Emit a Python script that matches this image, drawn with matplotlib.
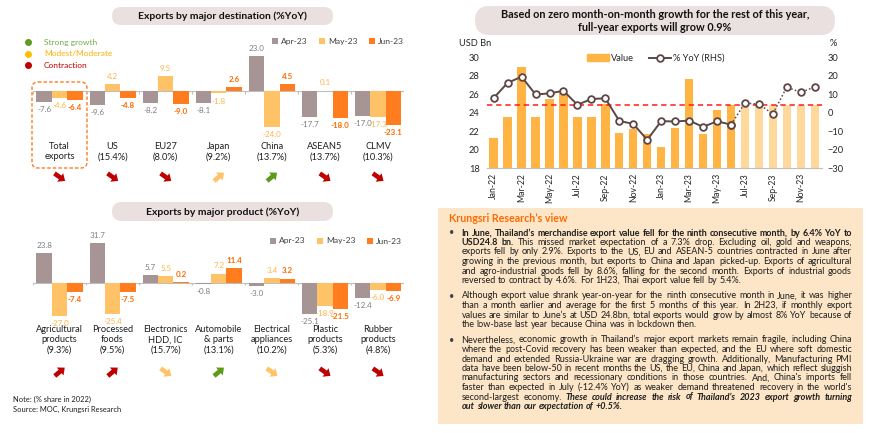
import numpy as np
import matplotlib
matplotlib.use('Agg')
import matplotlib.pyplot as plt
from matplotlib.patches import FancyBboxPatch, Polygon, Rectangle, Patch
from matplotlib.lines import Line2D

plt.rcParams['font.family'] = ['Lato', 'DejaVu Sans']

# ---------------- data ----------------
series_names = ['Apr-23', 'May-23', 'Jun-23']

dest_categories = ['Total\nexports', 'US\n(15.4%)', 'EU27\n(8.0%)', 'Japan\n(9.2%)',
                   'China\n(13.7%)', 'ASEAN5\n(13.7%)', 'CLMV\n(10.3%)']
dest_apr = [-7.6, -9.6, -8.2, -8.1, 23.0, -17.7, -17.0]
dest_may = [-4.6, 4.2, 9.5, -1.8, -24.0, 0.1, -17.3]
dest_jun = [-6.4, -4.8, -9.0, 2.6, 4.5, -18.0, -23.1]
dest_signal = ['contraction', 'contraction', 'contraction', 'moderate', 'strong', 'contraction', 'contraction']
dest_trend = ['down', 'down', 'down', 'up', 'up', 'down', 'down']

prod_categories = ['Agricultural\nproducts\n(9.3%)', 'Processed\nfoods\n(9.5%)', 'Electronics\nHDD, IC\n(15.7%)',
                   'Automobile\n& parts\n(13.1%)', 'Electrical\nappliances\n(10.2%)', 'Plastic\nproducts\n(5.3%)',
                   'Rubber\nproducts\n(4.8%)']
prod_apr = [23.8, 31.7, 5.7, -0.8, -3.0, -25.1, -12.4]
prod_may = [-27.0, -25.4, 5.5, 7.2, 3.4, -18.9, -6.0]
prod_jun = [-7.4, -7.5, 0.2, 11.4, 3.2, -21.5, -6.9]
prod_signal = ['contraction', 'contraction', 'moderate', 'strong', 'moderate', 'contraction', 'contraction']
prod_trend = ['up', 'up', 'down', 'up', 'down', 'down', 'down']

signal_names = ['Strong growth', 'Modest/Moderate', 'Contraction']

months = ['Jan-22', 'Feb-22', 'Mar-22', 'Apr-22', 'May-22', 'Jun-22', 'Jul-22', 'Aug-22', 'Sep-22',
          'Oct-22', 'Nov-22', 'Dec-22', 'Jan-23', 'Feb-23', 'Mar-23', 'Apr-23', 'May-23', 'Jun-23',
          'Jul-23', 'Aug-23', 'Sep-23', 'Oct-23', 'Nov-23', 'Dec-23']
export_value = [21.3, 23.5, 28.9, 23.5, 25.5, 26.1, 23.6, 23.6, 24.9, 21.8, 22.3, 21.7,
                20.3, 22.4, 27.7, 21.7, 24.3, 24.8, 24.8, 24.8, 24.8, 24.8, 24.8, 24.8]
export_yoy = [8.0, 16.2, 19.5, 9.9, 10.5, 11.9, 4.3, 7.5, 7.8, -4.4, -6.0, -14.6,
              -4.5, -4.7, -4.2, -7.6, -4.6, -6.4, 5.3, 4.6, -0.6, 13.9, 11.0, 14.0]
n_actual = 18
baseline_value = 24.8

# ---------------- styles ----------------
C_APR, C_MAY, C_JUN = '#A79494', '#FFC266', '#FF7C1F'
LBL_COLORS = ['#7F7F7F', '#FFB54A', '#FF6A00']
SIG_COLORS = {'strong': '#5E9B1C', 'moderate': '#FFC266', 'contraction': '#C00000'}
SIG_TEXT = ['#70AD47', '#FFB000', '#C00000']
SIG_DOT = ['#5E9B1C', '#FFC000', '#C00000']
TREND_ANGLE = {'up': 40, 'down': -35}
PILL = '#EAE0E0'
C_VAL, C_FC, C_LINE = '#FFB443', '#FFD99C', '#5C4646'
TXT = '#1E1E1E'

W, H = 870, 433
fig = plt.figure(figsize=(W / 100, H / 100), dpi=100)
ov = fig.add_axes([0, 0, 1, 1], zorder=0)
ov.set_xlim(0, W)
ov.set_ylim(H, 0)
ov.axis('off')


def rect_px(x0, y0, x1, y1):
    return [x0 / W, 1 - y1 / H, (x1 - x0) / W, (y1 - y0) / H]


def pill(x0, y0, x1, y1, text, fs):
    ov.add_patch(FancyBboxPatch((x0, y0), x1 - x0, y1 - y0,
                                boxstyle=f'round,pad=0,rounding_size={(y1 - y0) / 2:.1f}',
                                fc=PILL, ec='none'))
    ov.text((x0 + x1) / 2, (y0 + y1) / 2 + 0.5, text, ha='center', va='center', fontsize=fs,
            fontweight='bold', color='#111111', linespacing=1.15)


ARROW = np.array([(-6.2, -2.3), (0.8, -2.3), (0.8, -5.2), (6.8, 0), (0.8, 5.2), (0.8, 2.3), (-6.2, 2.3)])


def arrow(cx, cy, ang, color):
    a = np.deg2rad(ang)
    xs = cx + ARROW[:, 0] * np.cos(a) - ARROW[:, 1] * np.sin(a)
    ys = cy - (ARROW[:, 0] * np.sin(a) + ARROW[:, 1] * np.cos(a))
    ov.add_patch(Polygon(np.column_stack([xs, ys]), closed=True, fc=color, ec='none'))


def bar_panel(box, cats, apr, may, jun, ylim, pad, legend_xy, trends, signals, arrow_y):
    ax = fig.add_axes(rect_px(*box), zorder=2)
    ax.patch.set_alpha(0)
    x = np.arange(len(cats))
    w = 0.29
    for k, (vals, c) in enumerate(zip([apr, may, jun], [C_APR, C_MAY, C_JUN])):
        xs = x + (k - 1) * w
        ax.bar(xs, vals, w, color=c, label=series_names[k], zorder=2)
        for xi, v in zip(xs, vals):
            ax.annotate(f'{v:.1f}', (xi, v), xytext=(0, 3 if v >= 0 else -3), textcoords='offset points',
                        ha='center', va='bottom' if v >= 0 else 'top', fontsize=5.8,
                        color=LBL_COLORS[k], fontweight='bold' if k == 2 else 'normal', zorder=3)
    ax.axhline(0, color='#BFBFBF', lw=0.8, zorder=1)
    ax.vlines(np.arange(len(cats) + 1) - 0.5, -2.2, 0, color='#BFBFBF', lw=0.8, zorder=1)
    ax.set_xlim(-0.5, len(cats) - 0.5)
    ax.set_ylim(*ylim)
    ax.set_xticks(x, cats)
    ax.tick_params(axis='x', length=0, pad=pad, labelsize=6.7, labelcolor=TXT)
    for t in ax.get_xticklabels():
        t.set_linespacing(1.15)
    ax.set_yticks([])
    for s in ax.spines.values():
        s.set_visible(False)
    ax.legend(loc='center', bbox_to_anchor=legend_xy, bbox_transform=ov.transData, ncol=3,
              frameon=False, fontsize=6.1, handlelength=0.7, handleheight=0.7, handletextpad=0.4,
              columnspacing=1.3, labelcolor='#404040')
    fig.canvas.draw()
    for i in x:
        px = ax.transData.transform((i, 0))[0]
        arrow(px, arrow_y, TREND_ANGLE[trends[i]], SIG_COLORS[signals[i]])
    return ax


# ---------------- left top ----------------
pill(112, 7, 333, 25, 'Exports by major destination (%YoY)', 7.5)
ax1 = bar_panel((33, 36, 404.5, 140), dest_categories, dest_apr, dest_may, dest_jun,
                (-32.9, 36.5), 1.5, (338, 41.7), dest_trend, dest_signal, 177)
ov.add_patch(FancyBboxPatch((32, 82), 55, 86, boxstyle='round,pad=0,rounding_size=6',
                            fc='none', ec='#FF7C1F', ls=(0, (2.5, 1.5)), lw=1.0, zorder=5))
for i, (name, tc, dc) in enumerate(zip(signal_names, SIG_TEXT, SIG_DOT)):
    yy = 42 + i * 11.5
    ov.scatter([28.5], [yy], s=16, color=dc, zorder=3)
    ov.text(44, yy, name, fontsize=6, color=tc, va='center', ha='left')

# ---------------- left bottom ----------------
pill(112, 202, 333, 221, 'Exports by major product (%YoY)', 7.5)
ax2b = bar_panel((33, 230, 404.5, 324), prod_categories, prod_apr, prod_may, prod_jun,
                 (-33.3, 42.2), 1.0, (336, 241), prod_trend, prod_signal, 372)
ov.text(13, 399, 'Note: (% share in 2022)', fontsize=5.4, color=TXT, va='center')
ov.text(13, 409.5, 'Source: MOC, Krungsri Research', fontsize=5.4, color=TXT, va='center')

# ---------------- right chart ----------------
pill(475, 6, 835, 35, 'Based on zero month-on-month growth for the rest of this year,\nfull-year exports will grow 0.9%', 7.8)
axr = fig.add_axes(rect_px(486.7, 57.3, 821.7, 168.3), zorder=2)
axr.patch.set_alpha(0)
xm = np.arange(len(months))
bar_colors = [C_VAL if i < n_actual else C_FC for i in range(len(months))]
axr.bar(xm, export_value, 0.6, color=bar_colors, zorder=2)
axr.set_xlim(-0.5, len(months) - 0.5)
axr.set_ylim(18, 30)
axr.set_yticks(np.arange(18, 31, 2))
axr.axhline(baseline_value, color='#FF1A1A', ls=(0, (3.5, 2.5)), lw=1.1, zorder=4)
axr.set_xticks(xm, [m if i % 2 == 0 else '' for i, m in enumerate(months)], rotation=90)
axr.tick_params(axis='x', length=0, pad=3.5, labelsize=6.2, labelcolor='#262626')
axr.tick_params(axis='y', length=0, pad=5, labelsize=6.7, labelcolor='#262626')
for s in ['top', 'left', 'right']:
    axr.spines[s].set_visible(False)
axr.spines['bottom'].set_color('#BFBFBF')
axr.spines['bottom'].set_linewidth(0.8)

axy = axr.twinx()
axy.set_zorder(3)
axy.set_ylim(-30, 30)
axy.set_yticks(np.arange(-30, 31, 10))
axy.tick_params(axis='y', length=0, pad=4, labelsize=6.7, labelcolor='#262626')
for s in axy.spines.values():
    s.set_visible(False)
axy.plot(xm[n_actual - 1:], export_yoy[n_actual - 1:], color=C_LINE, lw=1.1, ls=(0, (1, 1.5)),
         marker='o', ms=4.8, mfc='white', mec=C_LINE, mew=1.3, zorder=3)
axy.plot(xm[:n_actual], export_yoy[:n_actual], color=C_LINE, lw=1.4,
         marker='o', ms=4.8, mfc='white', mec=C_LINE, mew=1.3, zorder=4)
ov.text(459, 44, 'USD Bn', fontsize=6.7, color='#262626', va='center', ha='left')
ov.text(833, 44, '%', fontsize=6.7, color='#262626', va='center', ha='center')
handles = [Patch(color=C_VAL), Line2D([], [], color=C_LINE, lw=1.4, marker='o', ms=4.8, mfc='white',
                                      mec=C_LINE, mew=1.3)]
axr.legend(handles, ['Value', '% YoY (RHS)'], loc='center', bbox_to_anchor=(656, 58.5),
           bbox_transform=ov.transData, ncol=2, frameon=False, fontsize=6.7, handlelength=2.3,
           handleheight=0.7, handletextpad=0.3, columnspacing=1.6, labelcolor='#262626')

# ---------------- text box ----------------
ov.add_patch(Rectangle((438, 208), 425, 216, fc='#FDE6C8', ec='none', zorder=0))
ov.text(449, 219, 'Krungsri Research’s view', fontsize=7.7, fontweight='bold', color='#FF6A00',
        va='center', ha='left')

paras = [
    [[('b', 'In June, Thailand’s merchandise export value fell for the ninth consecutive month, by 6.4% YoY to')],
     [('b', 'USD24.8 bn.'), ('n', 'This missed market expectation of a 7.3% drop. Excluding oil, gold and weapons,')],
     [('n', 'exports fell by only 2.9%. Exports to the US, EU and ASEAN-5 countries contracted in June after')],
     [('n', 'growing in the previous month, but exports to China and Japan picked-up. Exports of agricultural')],
     [('n', 'and agro-industrial goods fell by 8.6%, falling for the second month. Exports of industrial goods')],
     [('n', 'reversed to contract by 4.6%. For 1H23, Thai export value fell by 5.4%.')]],
    [[('n', 'Although export value shrank year-on-year for the ninth consecutive month in June, it was higher')],
     [('n', 'than a month earlier and average for the first 5 months of this year. In 2H23, if monthly export')],
     [('n', 'values are similar to June’s at USD 24.8bn, total exports would grow by almost 8% YoY because of')],
     [('n', 'the low-base last year because China was in lockdown then.')]],
    [[('n', 'Nevertheless, economic growth in Thailand’s major export markets remain fragile, including China')],
     [('n', 'where the post-Covid recovery has been weaker than expected, and the EU where soft domestic')],
     [('n', 'demand and extended Russia-Ukraine war are dragging growth. Additionally, Manufacturing PMI')],
     [('n', 'data have been below-50 in recent months the US, the EU, China and Japan, which reflect sluggish')],
     [('n', "manufacturing sectors and recessionary conditions in those countries. And, China's imports fell")],
     [('n', "faster than expected in July (-12.4% YoY) as weaker demand threatened recovery in the world's")],
     [('n', 'second-largest economy.'), ('bi', 'These could increase the risk of Thailand’s 2023 export growth turning')],
     [('bi', 'out slower than our expectation of +0.5%.')]],
]
STY = {'n': {}, 'b': {'fontweight': 'bold'}, 'bi': {'fontweight': 'bold', 'fontstyle': 'italic'}}
renderer = fig.canvas.get_renderer()


def measure(s, fs, st):
    t = ov.text(0, 0, s, fontsize=fs, **STY[st])
    w = t.get_window_extent(renderer).width
    t.remove()
    return w


def words_of(line):
    out = []
    for st, seg in line:
        out += [(w, st) for w in seg.split(' ') if w]
    return out


X0, X1 = 461.5, 852.0
base = 6.0
sp = measure('a a', base, 'n') - measure('aa', base, 'n')
ratios = []
for para in paras:
    for line in para[:-1]:
        wd = words_of(line)
        nat = sum(measure(w, base, st) for w, st in wd) + sp * 0.85 * (len(wd) - 1)
        ratios.append(nat / (X1 - X0))
fs = min(base / max(ratios) * 0.998, 6.8)
sp = measure('a a', fs, 'n') - measure('aa', fs, 'n')

y = 233.0
for pi, para in enumerate(paras):
    ov.text(451.5, y, '•', fontsize=fs, color='#404040', va='center', ha='center')
    for li, line in enumerate(para):
        wd = words_of(line)
        widths = [measure(w, fs, st) for w, st in wd]
        last = li == len(para) - 1
        gap = sp if (last or len(wd) < 2) else (X1 - X0 - sum(widths)) / (len(wd) - 1)
        xx = X0
        for (w, st), ww in zip(wd, widths):
            ov.text(xx, y, w, fontsize=fs, color=TXT, va='center', ha='left', **STY[st])
            xx += ww + gap
        y += 9.5
    y += 6.0

fig.savefig('out.png', dpi=100)
